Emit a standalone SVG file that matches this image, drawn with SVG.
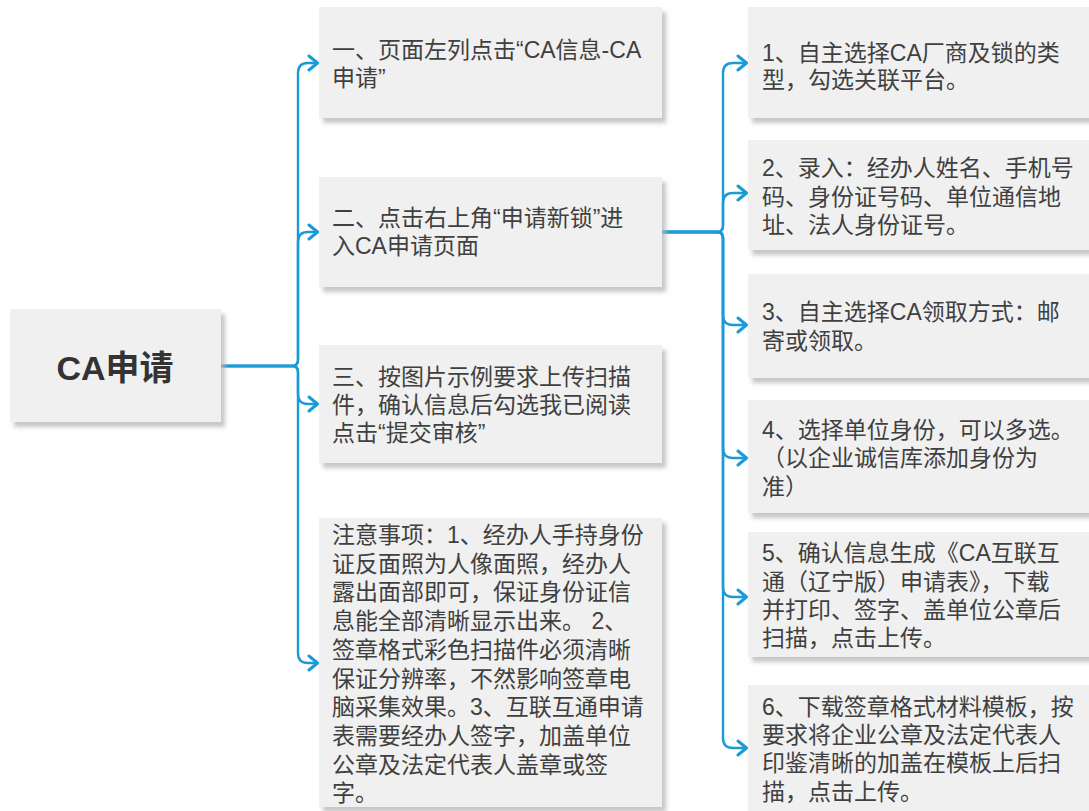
<svg xmlns="http://www.w3.org/2000/svg" width="1089" height="811" viewBox="0 0 1089 811">
<defs>
<filter id="sh" x="-10%" y="-10%" width="125%" height="130%">
<feDropShadow dx="4" dy="5" stdDeviation="2" flood-color="#b8b8b8" flood-opacity="0.8"/>
</filter>
<marker id="arr" viewBox="0 0 14 18" refX="12.5" refY="9" markerWidth="14" markerHeight="18" markerUnits="userSpaceOnUse" orient="auto">
<path d="M3.5,2 L12,9 L3.5,16" fill="none" stroke="#1a9ad6" stroke-width="3" stroke-linecap="round" stroke-linejoin="round"/>
</marker>
<style>
.box{fill:#f0f0f0;filter:url(#sh);}
.t{font-family:"Liberation Sans","Noto Sans CJK SC",sans-serif;font-size:23px;fill:#404040;}
.title{font-family:"Liberation Sans","Noto Sans CJK SC",sans-serif;font-size:34px;font-weight:bold;fill:#333333;}
.c{fill:none;stroke:#1a9ad6;stroke-width:2.4;}
</style>
</defs>
<rect width="1089" height="811" fill="#ffffff"/>
<g id="connectors">
<path class="c" marker-end="url(#arr)" d="M221,366 H292 Q298,366 298,360 V73 Q298,63 308,63 H318"/>
<path class="c" marker-end="url(#arr)" d="M221,366 H292 Q298,366 298,360 V242 Q298,232 308,232 H318"/>
<path class="c" marker-end="url(#arr)" d="M221,366 H292 Q298,366 298,372 V394 Q298,404 308,404 H318"/>
<path class="c" marker-end="url(#arr)" d="M221,366 H292 Q298,366 298,372 V653 Q298,663 308,663 H318"/>
<path class="c" marker-end="url(#arr)" d="M662,232 H717 Q723,232 723,226 V73 Q723,63 733,63 H747"/>
<path class="c" marker-end="url(#arr)" d="M662,232 H717 Q723,232 723,226 V203 Q723,193 733,193 H747"/>
<path class="c" marker-end="url(#arr)" d="M662,232 H717 Q723,232 723,238 V315 Q723,325 733,325 H747"/>
<path class="c" marker-end="url(#arr)" d="M662,232 H717 Q723,232 723,238 V448 Q723,458 733,458 H747"/>
<path class="c" marker-end="url(#arr)" d="M662,232 H717 Q723,232 723,238 V587 Q723,597 733,597 H747"/>
<path class="c" marker-end="url(#arr)" d="M662,232 H717 Q723,232 723,238 V738 Q723,748 733,748 H747"/>
</g>
<g id="root">
<rect class="box" x="10" y="309" width="211" height="113"/>
<text class="title" x="115" y="380" text-anchor="middle">CA申请</text>
</g>
<g id="step1">
<rect class="box" x="319" y="7" width="343" height="111"/>
<text class="t" x="332" y="58">一、页面左列点击“CA信息-CA</text>
<text class="t" x="332" y="86">申请”</text>
</g>
<g id="step2">
<rect class="box" x="319" y="177" width="343" height="110"/>
<text class="t" x="332" y="226">二、点击右上角“申请新锁”进</text>
<text class="t" x="332" y="254">入CA申请页面</text>
</g>
<g id="step3">
<rect class="box" x="319" y="345" width="343" height="118"/>
<text class="t" x="332" y="385">三、按图片示例要求上传扫描</text>
<text class="t" x="332" y="413">件，确认信息后勾选我已阅读</text>
<text class="t" x="332" y="441">点击“提交审核”</text>
</g>
<g id="notes">
<rect class="box" x="319" y="518" width="343" height="289"/>
<text class="t" x="332" y="543">注意事项：1、经办人手持身份</text>
<text class="t" x="332" y="571.7">证反面照为人像面照，经办人</text>
<text class="t" x="332" y="600.4">露出面部即可，保证身份证信</text>
<text class="t" x="332" y="629.1">息能全部清晰显示出来。 2、</text>
<text class="t" x="332" y="657.8">签章格式彩色扫描件必须清晰</text>
<text class="t" x="332" y="686.5">保证分辨率，不然影响签章电</text>
<text class="t" x="332" y="715.2">脑采集效果。3、互联互通申请</text>
<text class="t" x="332" y="743.9">表需要经办人签字，加盖单位</text>
<text class="t" x="332" y="772.6">公章及法定代表人盖章或签</text>
<text class="t" x="332" y="801.3">字。</text>
</g>
<g id="r1">
<rect class="box" x="748" y="7" width="350" height="111"/>
<text class="t" x="762" y="61">1、自主选择CA厂商及锁的类</text>
<text class="t" x="762" y="88">型，勾选关联平台。</text>
</g>
<g id="r2">
<rect class="box" x="748" y="140" width="350" height="110"/>
<text class="t" x="762" y="176">2、录入：经办人姓名、手机号</text>
<text class="t" x="762" y="205">码、身份证号码、单位通信地</text>
<text class="t" x="762" y="233">址、法人身份证号。</text>
</g>
<g id="r3">
<rect class="box" x="748" y="274" width="350" height="104"/>
<text class="t" x="762" y="320">3、自主选择CA领取方式：邮</text>
<text class="t" x="762" y="349">寄或领取。</text>
</g>
<g id="r4">
<rect class="box" x="748" y="400" width="350" height="113"/>
<text class="t" x="762" y="438">4、选择单位身份，可以多选。</text>
<text class="t" x="762" y="466">（以企业诚信库添加身份为</text>
<text class="t" x="762" y="495">准）</text>
</g>
<g id="r5">
<rect class="box" x="748" y="532" width="350" height="125"/>
<text class="t" x="762" y="561">5、确认信息生成《CA互联互</text>
<text class="t" x="762" y="590">通（辽宁版）申请表》，下载</text>
<text class="t" x="762" y="618">并打印、签字、盖单位公章后</text>
<text class="t" x="762" y="646">扫描，点击上传。</text>
</g>
<g id="r6">
<rect class="box" x="748" y="685" width="350" height="135"/>
<text class="t" x="762" y="715">6、下载签章格式材料模板，按</text>
<text class="t" x="762" y="743">要求将企业公章及法定代表人</text>
<text class="t" x="762" y="771">印鉴清晰的加盖在模板上后扫</text>
<text class="t" x="762" y="800">描，点击上传。</text>
</g>
</svg>
